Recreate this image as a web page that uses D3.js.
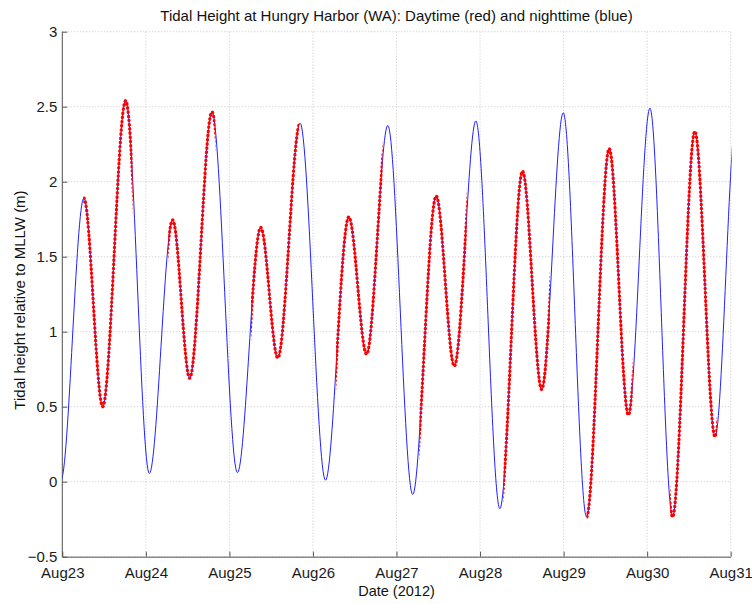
<!DOCTYPE html>
<html>
<head>
<meta charset="utf-8">
<script src="https://cdn.jsdelivr.net/npm/d3@7"></script>
<style>
  html, body { margin: 0; padding: 0; background: #fff; }
  svg { display: block; font-family: "Liberation Sans", Arial, sans-serif; }
</style>
</head>
<body>
<svg id="chart" width="752" height="604"></svg>
<script>
// ---- data ----
// tide turning points: day offset from Aug 23 2012, hour of day, height (m)
const tideDay   = [-1,   -1,   0,    0,    0,    1,     1,     1,    1,     2,    2,     2,     2,    3,    3,     3,    3,     4,     4,    4,    4,     5,     5,    5,     5,    6,     6,    6,     7,    7,     7,     7,    8,    8];
const tideHour  = [17.0, 23.6, 6.2,  11.6, 18.2, 1.0,   7.7,   12.6, 19.0,  2.3,  9.0,   13.9,  20.3, 3.6,  10.3,  15.4, 21.5,  4.65,  11.4, 16.6, 22.8,  5.7,   12.2, 17.7,  23.9, 6.6,   13.1, 18.6,  0.8,  7.3,   13.7,  19.5, 1.7,  8.3];
const tideValue = [2.45, 0.01, 1.89, 0.50, 2.54, 0.055, 1.745, 0.69, 2.465, 0.06, 1.695, 0.825, 2.39, 0.01, 1.765, 0.85, 2.375, -0.085, 1.905, 0.77, 2.405, -0.18, 2.07, 0.615, 2.46, -0.235, 2.22, 0.445, 2.49, -0.235, 2.335, 0.30, 2.45, -0.2];

// daytime window per day (hours) used to colour the curve red
const dayLabels  = ["Aug23","Aug24","Aug25","Aug26","Aug27","Aug28","Aug29","Aug30","Aug31"];
const sunriseHour = [6.0, 6.4, 6.2, 6.6, 6.55, 6.7, 6.6, 6.6];
const sunsetHour  = [20.2, 20.0, 20.0, 20.0, 20.2, 20.1, 19.85, 20.1];

const yTicks = [-0.5, 0, 0.5, 1, 1.5, 2, 2.5, 3];
const titleText = "Tidal Height at Hungry Harbor (WA): Daytime (red) and nighttime (blue)";
const xLabelText = "Date (2012)";
const yLabelText = "Tidal height relative to MLLW (m)";

// ---- layout ----
const margin = { left: 62.3, right: 752 - 730.7, top: 31.7, bottom: 604 - 556.7 };
const W = 752, H = 604;
const iw = W - margin.left - margin.right;
const ih = H - margin.top - margin.bottom;

const base = new Date(2012, 7, 23, 0, 0, 0);
const toDate = (d, h) => new Date(base.getTime() + (d * 24 + h) * 3600 * 1000);

const points = tideDay.map((d, i) => ({ t: toDate(d, tideHour[i]), v: tideValue[i] }));
const dayDates = dayLabels.map((_, i) => toDate(i, 0));

const x = d3.scaleTime().domain([dayDates[0], dayDates[dayDates.length - 1]]).range([0, iw]);
const y = d3.scaleLinear().domain([-0.5, 3]).range([ih, 0]);

const svg = d3.select("#chart");
const g = svg.append("g").attr("transform", `translate(${margin.left},${margin.top})`);

// clip paths
const defs = svg.append("defs");
defs.append("clipPath").attr("id", "plotClip")
  .append("rect").attr("x", 0).attr("y", -5).attr("width", iw + 1).attr("height", ih + 10);
const dayClip = defs.append("clipPath").attr("id", "dayClip");
sunriseHour.forEach((sr, i) => {
  const x0 = x(toDate(i, sr)), x1 = x(toDate(i, sunsetHour[i]));
  dayClip.append("rect").attr("x", x0).attr("y", -10).attr("width", x1 - x0).attr("height", ih + 20);
});

// grid
const gridColor = "#c8c8c8";
g.append("g").selectAll("line").data(dayDates).join("line")
  .attr("x1", d => x(d)).attr("x2", d => x(d)).attr("y1", 0).attr("y2", ih)
  .attr("stroke", gridColor).attr("stroke-width", 1).attr("stroke-dasharray", "1,2");
g.append("g").selectAll("line").data(yTicks).join("line")
  .attr("x1", 0).attr("x2", iw).attr("y1", d => y(d)).attr("y2", d => y(d))
  .attr("stroke", gridColor).attr("stroke-width", 1).attr("stroke-dasharray", "1,2");

// axes
const axisColor = "#555";
const xAxis = d3.axisBottom(x).tickValues(dayDates).tickFormat((d, i) => dayLabels[i])
  .tickSizeInner(-5).tickSizeOuter(0).tickPadding(11);
const gx = g.append("g").attr("transform", `translate(0,${ih})`).call(xAxis);
const yAxis = d3.axisLeft(y).tickValues(yTicks).tickFormat(d3.format("")).tickSizeInner(-5).tickSizeOuter(0).tickPadding(5);
const gy = g.append("g").call(yAxis);
[gx, gy].forEach(a => {
  a.select(".domain").attr("stroke", axisColor).attr("stroke-width", 1);
  a.selectAll(".tick line").attr("stroke", axisColor);
  a.selectAll(".tick text").attr("fill", "#1a1a1a").style("font-size", "15px")
    .style("font-family", "'Liberation Sans', Arial, sans-serif");
});
gy.select(".domain").attr("d", `M0,${ih + 0.5}V0`);

// curve
const line = d3.line().x(d => x(d.t)).y(d => y(d.v)).curve(d3.curveMonotoneX);
const curveG = g.append("g").attr("clip-path", "url(#plotClip)");
curveG.append("path").datum(points).attr("d", line)
  .attr("fill", "none").attr("stroke", "#2020ff").attr("stroke-width", 1);
curveG.append("g").attr("clip-path", "url(#dayClip)")
  .append("path").datum(points).attr("d", line)
  .attr("fill", "none").attr("stroke", "#ff0000").attr("stroke-width", 3.2)
  .attr("stroke-linecap", "round")
  .attr("stroke-dasharray", "0.4,3.8");

// titles
svg.append("text").attr("x", margin.left + iw / 2).attr("y", 20.5).attr("text-anchor", "middle")
  .style("font-size", "15px").attr("fill", "#111").text(titleText);
svg.append("text").attr("x", margin.left + iw / 2).attr("y", 596).attr("text-anchor", "middle")
  .style("font-size", "14.5px").attr("fill", "#111").text(xLabelText);
svg.append("text").attr("transform", `translate(25,300) rotate(-90)`)
  .attr("text-anchor", "middle").style("font-size", "15px").attr("fill", "#111").text(yLabelText);
</script>
</body>
</html>
